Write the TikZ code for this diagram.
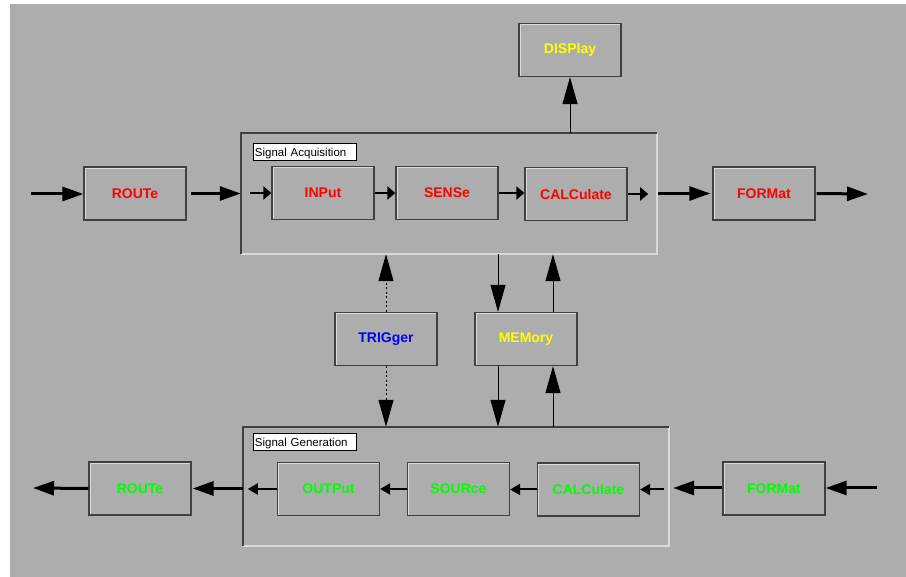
\documentclass[tikz,border=0pt]{standalone}
\usepackage{fontspec}
\setmainfont{Liberation Sans}
\usetikzlibrary{arrows.meta}

\definecolor{panel}{RGB}{173,173,173}
\definecolor{edgedark}{RGB}{62,66,62}
\definecolor{edgelight}{RGB}{216,220,216}
\definecolor{txtred}{RGB}{255,0,0}
\definecolor{txtyel}{RGB}{255,255,0}
\definecolor{txtblue}{RGB}{0,0,255}
\definecolor{txtgreen}{RGB}{0,255,0}

\tikzset{
	blk/.style={draw=edgedark, line width=1.3pt, fill=panel, inner sep=0pt,
		minimum width=102pt, minimum height=53pt,
		font=\bfseries\fontsize{14}{16}\selectfont,
		path picture={\draw[edgelight, line width=3.5pt]
			(path picture bounding box.south west) |- (path picture bounding box.north east);}},
	grp/.style={inner sep=0pt},
	tag/.style={draw=black, fill=white, line width=0.8pt, anchor=north west,
		text height=10.5pt, text depth=2pt, text width=100pt,
		inner xsep=1.5pt, inner ysep=2.25pt,
		align=left, font=\fontsize{11.5}{12}\selectfont},
	big/.style={-{Triangle[length=21pt,width=14pt]}, line width=3pt},
	small/.style={-{Triangle[length=8pt,width=13pt]}, line width=2.6pt},
	thin/.style={-{Triangle[length=10pt,width=11pt]}, line width=2pt},
	vline/.style={-{Triangle[length=27pt,width=15pt]}, line width=1pt},
	dots/.style={vline, dash pattern=on 2pt off 2.5pt}
}

\begin{document}
\begin{tikzpicture}[x=1pt, y=-1pt]
	\useasboundingbox (0,0) rectangle (906,577);
	\fill[white] (0,0) rectangle (906,577);
	\fill[panel] (10,4) rectangle (906,577);
	
	% the two group frames
	\node[grp, minimum width=416pt, minimum height=121pt] (acq) at (449,193.5) {};
	\node[grp, minimum width=426pt, minimum height=119pt] (gen) at (456,486.5) {};
	\foreach \g in {acq, gen} {
		\draw[edgelight, line width=2pt] (\g.south west) -| (\g.north east);
		\draw[edgedark, line width=2pt] (\g.south west) |- (\g.north east);
	}
	\node[tag] (acqtag) at (253,143) {Signal Acquisition};
	\node[tag] (gentag) at (253,433) {Signal Generation};
	
	% subsystem blocks
	\foreach \n\s\x\y\c in {rta/ROUTe/135/193.5/txtred, inp/INPut/323/193/txtred,
		sns/SENSe/447/193/txtred, cla/CALCulate/576/194/txtred,
		fma/FORMat/764/193.5/txtred, dsp/DISPlay/570/50/txtyel,
		trg/TRIGger/386/339/txtblue, mem/MEMory/526/339/txtyel,
		rtb/ROUTe/140/488.5/txtgreen, outp/OUTPut/328.5/489/txtgreen,
		src/SOURce/458.5/489/txtgreen, clb/CALCulate/588.5/489.5/txtgreen,
		fmb/FORMat/774/488.5/txtgreen}
	\node[blk, text=\c] (\n) at (\x,\y) {\s};
	
	\coordinate (inA) at (31,194);
	\coordinate (outA) at (868,194);
	\coordinate (inB) at (877,488);
	\coordinate (outB) at (33,488);
	\coordinate (c1) at (498,0);
	\coordinate (c2) at (553,0);
	
	% acquisition path
	\draw[big] (inA) -- (rta.west |- inA);
	\draw[big, shorten <=4pt] (rta.east) -- (acq.west |- rta);
	\draw[small, shorten <=9pt] (acq.west |- inp) -- (inp.west);
	\draw[small] (inp.east) -- (sns.west |- inp);
	\draw[small] (sns.east) -- (cla.west |- sns);
	\draw[small, shorten >=9pt] (cla.east) -- (acq.east |- cla);
	\draw[big, shorten <=1pt, shorten >=2pt] (acq.east |- fma) -- (fma.west);
	\draw[big, shorten <=1pt] (fma.east) -- (outA);
	\draw[vline] (dsp.south |- acq.north) -- (dsp.south);
	
	% trigger and memory links
	\draw[dots] (trg.north) -- (trg.north |- acq.south);
	\draw[dots] (trg.south) -- (trg.south |- gen.north);
	\draw[vline] (c1 |- acq.south) -- (c1 |- mem.north);
	\draw[vline] (c2 |- mem.north) -- (c2 |- acq.south);
	\draw[vline] (c1 |- mem.south) -- (c1 |- gen.north);
	\draw[vline] (c2 |- gen.north) -- (c2 |- mem.south);
	
	% generation path
	\draw[big] (inB) -- (fmb.east |- inB);
	\draw[big, shorten >=4pt] (fmb.west |- inB) -- (gen.east |- inB);
	\draw[thin, shorten <=5pt] (gen.east |- clb) -- (clb.east);
	\draw[thin] (clb.west) -- (src.east |- clb);
	\draw[thin] (src.west) -- (outp.east |- src);
	\draw[thin, shorten >=5pt] (outp.west) -- (gen.west |- outp);
	\draw[big, shorten >=1pt] (gen.west |- rtb) -- (rtb.east);
	\draw[big] (rtb.west) -- (outB);
\end{tikzpicture}
\end{document}
